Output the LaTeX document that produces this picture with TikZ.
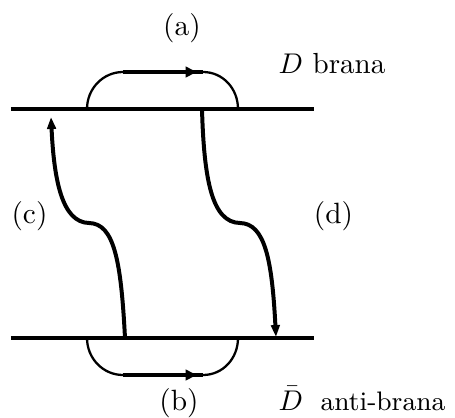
\documentclass[tikz,border=0pt]{standalone}
\usetikzlibrary{arrows.meta}
\begin{document}
\begin{tikzpicture}[x=0.351pt,y=-0.351pt,
  brane/.style={line width=1.4pt},
  loopthin/.style={line width=0.8pt},
  loopflat/.style={line width=1.3pt,-{Triangle[length=4pt,width=3.6pt]}},
  string/.style={line width=1.4pt,-{Triangle[length=4.2pt,width=3pt]}},
  lbl/.style={inner sep=0pt,anchor=base}]
\useasboundingbox (0,0) rectangle (455,418);
% branes
\coordinate (tl) at (11,109); \coordinate (tr) at (314,109);
\coordinate (bl) at (11,338); \coordinate (br) at (314,338);
\draw[brane] (tl) -- (tr);
\draw[brane] (bl) -- (br);
% top loop (a)
\coordinate (a1) at (87,109); \coordinate (a2) at (123,72);
\coordinate (a3) at (203,72); \coordinate (a4) at (238,109);
\coordinate (ah) at (197,72);
\draw[loopthin] (a1) .. controls (87,88.6) and (103.1,72) .. (a2);
\draw[loopthin] (a3) .. controls (222.9,72) and (238,88.6) .. (a4);
\draw[line width=1.3pt] (a2) -- (a3);
\draw[loopflat] (a2) -- (ah);
% bottom loop (b)
\coordinate (b1) at (87,338); \coordinate (b2) at (123,375);
\coordinate (b3) at (203,375); \coordinate (b4) at (238,338);
\coordinate (bh) at (197,375);
\draw[loopthin] (b1) .. controls (87,358.4) and (103.1,375) .. (b2);
\draw[loopthin] (b3) .. controls (222.9,375) and (238,358.4) .. (b4);
\draw[line width=1.3pt] (b2) -- (b3);
\draw[loopflat] (b2) -- (bh);
% string (c)
\coordinate (c0) at (125,338); \coordinate (cm) at (89,223); \coordinate (c1) at (51,117);
\draw[string] (c0) .. controls (121,260) and (114,223.5) .. (cm)
  .. controls (62,222.5) and (54,180) .. (c1);
% string (d)
\coordinate (d0) at (202,109); \coordinate (dm) at (240,223); \coordinate (d1) at (276,337);
\draw[string] (d0) .. controls (204,180) and (212,222.5) .. (dm)
  .. controls (265,223.5) and (272,260) .. (d1);
% labels
\node[lbl] (la) at (182,35) {\fontsize{10.3pt}{12pt}\selectfont (a)};
\node[lbl] (lb) at (179,410) {\fontsize{10.3pt}{12pt}\selectfont (b)};
\node[lbl] (lc) at (29.5,223) {\fontsize{10.3pt}{12pt}\selectfont (c)};
\node[lbl] (ld) at (333.5,223) {\fontsize{10.3pt}{12pt}\selectfont (d)};
\node[lbl,anchor=base west] (lD) at (278,73) {\fontsize{10.2pt}{12pt}\selectfont $D$ brana};
\node[lbl,anchor=base west] (lDb) at (278,410) {\fontsize{10pt}{12pt}\selectfont $\bar D$\hspace{0.62em}\fontsize{9.4pt}{11pt}\selectfont anti-brana};
\end{tikzpicture}
\end{document}
